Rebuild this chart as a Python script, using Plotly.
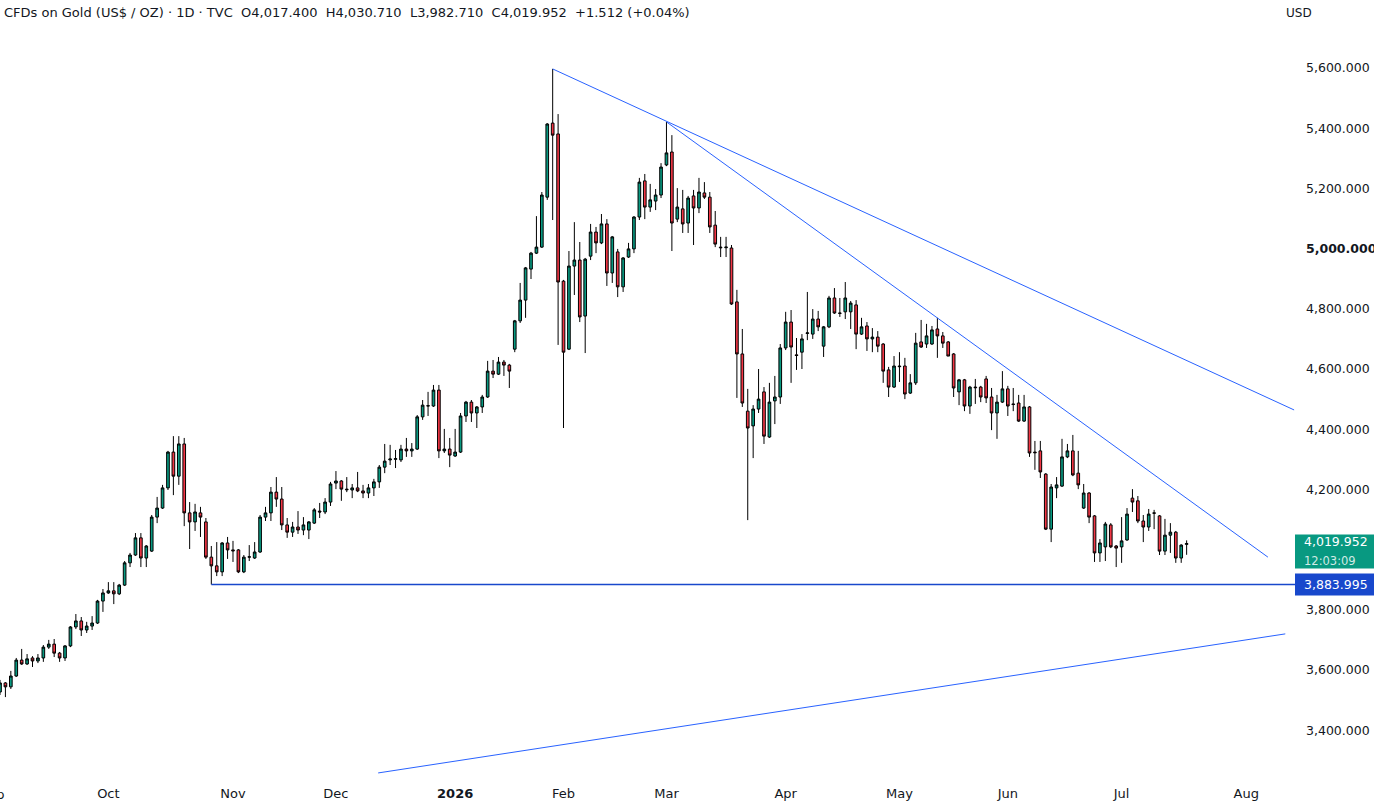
import pandas as pd
import plotly.graph_objects as go

# ---------------- data ----------------
FIRST_BAR = "2025-09-03"
HOLIDAYS = ["2025-11-27", "2025-12-25", "2026-01-01", "2026-01-19",
            "2026-02-16", "2026-04-03", "2026-05-25", "2026-06-19"]

open_prices = [
    3527, 3557, 3544, 3580, 3633, 3620, 3640, 3630, 3640, 3676,
    3686, 3656, 3640, 3680, 3743, 3763, 3733, 3746, 3756, 3829,
    3856, 3863, 3853, 3882, 3956, 3982, 4039, 3972, 3995, 4108,
    4138, 4205, 4324, 4244, 4351, 4122, 4092, 4122, 4092, 3975,
    3946, 3926, 4022, 3999, 3999, 3926, 3975, 3972, 3992, 4108,
    4122, 4191, 4168, 4082, 4058, 4075, 4065, 4065, 4088, 4128,
    4125, 4158, 4221, 4228, 4201, 4198, 4205, 4195, 4188, 4205,
    4225, 4274, 4298, 4300, 4298, 4334, 4328, 4334, 4441, 4477,
    4477, 4530, 4328, 4334, 4311, 4324, 4444, 4490, 4454, 4474,
    4507, 4593, 4583, 4623, 4613, 4666, 4760, 4829, 4932, 4985,
    5005, 5171, 5417, 5381, 4892, 4666, 4942, 4962, 4776, 4975,
    5055, 5019, 5082, 4919, 4989, 4873, 4972, 4999, 5105, 5225,
    5138, 5158, 5178, 5278, 5321, 5098, 5132, 5085, 5175, 5135,
    5185, 5171, 5078, 5005, 5003, 5002, 4823, 4650, 4460, 4411,
    4467, 4524, 4374, 4494, 4507, 4670, 4756, 4647, 4656, 4718,
    4716, 4766, 4676, 4740, 4836, 4786, 4790, 4790, 4813, 4716,
    4743, 4700, 4706, 4683, 4597, 4540, 4610, 4610, 4520, 4554,
    4690, 4683, 4683, 4733, 4710, 4690, 4650, 4524, 4564, 4477,
    4540, 4540, 4567, 4507, 4454, 4490, 4534, 4484, 4487, 4427,
    4474, 4324, 4328, 4251, 4068, 4205, 4211, 4308, 4328, 4254,
    4138, 4188, 4112, 3989, 4009, 4082, 4012, 4009, 4032, 4171,
    4162, 4095, 4075, 4122, 4112, 3995, 4048, 4058, 3972, 4017.400,
]
high_prices = [
    3567, 3560, 3597, 3640, 3670, 3653, 3646, 3653, 3683, 3700,
    3703, 3660, 3683, 3746, 3786, 3776, 3760, 3779, 3833, 3869,
    3892, 3892, 3886, 3962, 3989, 4055, 4055, 4015, 4115, 4175,
    4215, 4328, 4377, 4377, 4371, 4158, 4152, 4142, 4105, 4012,
    4025, 4025, 4042, 4029, 4002, 3982, 4015, 4025, 4115, 4142,
    4208, 4241, 4208, 4105, 4092, 4128, 4108, 4095, 4138, 4155,
    4171, 4225, 4261, 4231, 4241, 4218, 4258, 4215, 4218, 4235,
    4281, 4351, 4348, 4331, 4348, 4371, 4354, 4447, 4497, 4524,
    4547, 4547, 4401, 4371, 4401, 4454, 4494, 4497, 4477, 4514,
    4627, 4630, 4640, 4630, 4617, 4763, 4886, 4939, 4989, 5108,
    5188, 5417, 5597, 5447, 4896, 4992, 5088, 5022, 4969, 5082,
    5072, 5115, 5098, 5042, 4999, 4972, 5019, 5108, 5235, 5248,
    5215, 5198, 5284, 5421, 5377, 5201, 5195, 5175, 5195, 5235,
    5221, 5188, 5125, 5039, 5039, 5012, 4863, 4733, 4534, 4480,
    4600, 4540, 4554, 4577, 4683, 4790, 4796, 4703, 4716, 4856,
    4799, 4793, 4743, 4843, 4869, 4836, 4889, 4826, 4829, 4770,
    4756, 4736, 4726, 4686, 4607, 4643, 4656, 4637, 4583, 4720,
    4763, 4750, 4743, 4770, 4723, 4693, 4653, 4567, 4567, 4544,
    4567, 4544, 4577, 4537, 4514, 4593, 4544, 4537, 4514, 4514,
    4477, 4361, 4361, 4254, 4218, 4241, 4368, 4351, 4381, 4328,
    4218, 4191, 4115, 4035, 4092, 4088, 4015, 4108, 4138, 4201,
    4178, 4115, 4135, 4132, 4115, 4102, 4088, 4062, 4018, 4030.710,
]
low_prices = [
    3517, 3510, 3537, 3577, 3617, 3617, 3610, 3623, 3627, 3670,
    3643, 3627, 3630, 3676, 3736, 3713, 3723, 3733, 3753, 3793,
    3853, 3819, 3849, 3879, 3942, 3979, 3942, 3942, 3992, 4088,
    4135, 4198, 4181, 4215, 4078, 4002, 4062, 4042, 3969, 3883.995,
    3912, 3912, 3969, 3959, 3922, 3922, 3962, 3969, 3989, 4095,
    4095, 4142, 4065, 4039, 4042, 4052, 4048, 4035, 4085, 4105,
    4118, 4145, 4201, 4162, 4191, 4171, 4191, 4171, 4171, 4178,
    4205, 4254, 4281, 4271, 4291, 4308, 4308, 4331, 4431, 4444,
    4474, 4304, 4321, 4274, 4308, 4321, 4424, 4424, 4404, 4454,
    4504, 4570, 4580, 4577, 4537, 4656, 4753, 4770, 4899, 4982,
    5002, 5162, 5095, 4680, 4404, 4663, 4846, 4756, 4653, 4962,
    4985, 5015, 4876, 4886, 4839, 4856, 4969, 4985, 5095, 5098,
    5122, 5128, 5168, 5274, 4992, 5088, 5052, 5052, 5012, 5118,
    5165, 5052, 5005, 4972, 4972, 4813, 4504, 4474, 4098, 4304,
    4454, 4351, 4371, 4417, 4484, 4663, 4554, 4597, 4600, 4696,
    4700, 4726, 4640, 4736, 4783, 4773, 4766, 4733, 4666, 4713,
    4660, 4656, 4656, 4554, 4507, 4537, 4557, 4500, 4517, 4547,
    4670, 4670, 4680, 4637, 4670, 4643, 4507, 4480, 4460, 4451,
    4484, 4490, 4487, 4397, 4368, 4487, 4444, 4460, 4424, 4424,
    4308, 4265, 4238, 4065, 4025, 4171, 4208, 4304, 4244, 4201,
    4135, 4088, 3959, 3959, 3962, 4005, 3942, 3956, 4029, 4125,
    4088, 4025, 4062, 4068, 3982, 3982, 3989, 3956, 3956, 3982.710,
]
close_prices = [
    3557, 3544, 3580, 3633, 3620, 3637, 3630, 3640, 3676, 3686,
    3656, 3640, 3680, 3743, 3763, 3733, 3746, 3756, 3829, 3856,
    3863, 3853, 3882, 3956, 3982, 4039, 3972, 4012, 4108, 4138,
    4205, 4324, 4244, 4351, 4122, 4092, 4125, 4108, 3975, 3946,
    3926, 4022, 3999, 3996, 3926, 3975, 3976, 3992, 4108, 4122,
    4191, 4168, 4082, 4058, 4075, 4065, 4082, 4092, 4132, 4125,
    4158, 4218, 4228, 4201, 4199, 4205, 4195, 4188, 4205, 4225,
    4274, 4294, 4301, 4302, 4334, 4328, 4334, 4441, 4480, 4478,
    4530, 4328, 4334, 4314, 4324, 4444, 4490, 4454, 4474, 4507,
    4593, 4583, 4623, 4613, 4593, 4760, 4829, 4936, 4985, 5005,
    5178, 5414, 5377, 4889, 4656, 4942, 4962, 4773, 4965, 5055,
    5019, 5082, 4919, 5039, 4873, 4969, 4999, 5105, 5221, 5138,
    5162, 5178, 5271, 5318, 5085, 5138, 5082, 5168, 5135, 5188,
    5171, 5072, 5015, 5003, 5005, 4816, 4650, 4487, 4404, 4467,
    4500, 4377, 4490, 4507, 4670, 4756, 4673, 4645, 4700, 4720,
    4766, 4740, 4740, 4836, 4786, 4785, 4836, 4819, 4716, 4740,
    4700, 4706, 4676, 4593, 4540, 4610, 4608, 4517, 4554, 4686,
    4673, 4710, 4730, 4710, 4686, 4643, 4537, 4564, 4477, 4540,
    4538, 4507, 4504, 4454, 4490, 4534, 4477, 4482, 4427, 4474,
    4321, 4322, 4258, 4068, 4208, 4215, 4308, 4328, 4248, 4215,
    4188, 4108, 3989, 4022, 4085, 4009, 4005, 4029, 4118, 4158,
    4095, 4075, 4118, 4121, 3995, 4048, 4058, 3972, 4015, 4019.952,
]

month_tick_dates = ["2025-10-01", "2025-11-03", "2025-12-01", "2026-01-02",
                    "2026-02-02", "2026-03-02", "2026-04-01", "2026-05-01",
                    "2026-06-01", "2026-07-01", "2026-08-03"]
month_tick_labels = ["Oct", "Nov", "Dec", "<b>2026</b>", "Feb", "Mar", "Apr",
                     "May", "Jun", "Jul", "Aug"]
price_ticks = [3400, 3600, 3800, 4000, 4200, 4400, 4600, 4800, 5000, 5200, 5400, 5600]

# trend lines: (start date, start price, end date, end price)
trend_lines = [
    ("2026-01-29 12:00", 5597, "2026-08-14 08:00", 4464),
    ("2026-03-02 12:00", 5421, "2026-08-07 12:00", 3975),
    ("2025-12-11 07:00", 3258, "2026-08-12 17:00", 3720),
]
support_start = "2025-10-28 12:00"
support_level = 3883.995
countdown = "12:03:09"
header = ("CFDs on Gold (US$ / OZ) · 1D · TVC\u00a0\u00a0O4,017.400\u00a0\u00a0H4,030.710"
          "\u00a0\u00a0L3,982.710\u00a0\u00a0C4,019.952\u00a0\u00a0+1.512 (+0.04%)")

# ---------------- figure ----------------
dates = pd.bdate_range(start=FIRST_BAR, periods=len(close_prices), freq="C",
                       holidays=HOLIDAYS) + pd.Timedelta(hours=12)

UP, DOWN, TXT = "#089981", "#F23645", "#131722"
fig = go.Figure(go.Candlestick(
    x=dates, open=open_prices, high=high_prices, low=low_prices, close=close_prices,
    increasing=dict(fillcolor=UP, line=dict(color="#000000", width=1)),
    decreasing=dict(fillcolor=DOWN, line=dict(color="#000000", width=1)),
    whiskerwidth=0, showlegend=False, hoverinfo="skip",
))

W, H = 1374, 803
ML, MR, MT, MB = 0, 79, 0, 26
plot_w = W - ML - MR
plot_h = H - MT - MB
y_top, y_bot = 5826.0, 3244.5
px_per_price = plot_h / (y_top - y_bot)

shapes = []
for x0, y0, x1, y1 in trend_lines:
    shapes.append(dict(type="line", xref="x", yref="y", x0=x0, y0=y0, x1=x1, y1=y1,
                       line=dict(color="#2962FF", width=1)))
shapes.append(dict(type="line", xref="x", yref="y", x0=support_start, x1="2026-08-14 12:00",
                   y0=support_level, y1=support_level, line=dict(color="#1848CC", width=1.3)))

last = close_prices[-1]
right_end = W / plot_w
shapes.append(dict(type="rect", xref="paper", yref="y", x0=1.0, x1=right_end,
                   y0=last - 25 / px_per_price, y1=last + 9 / px_per_price,
                   fillcolor=UP, line=dict(width=0), layer="above"))
shapes.append(dict(type="rect", xref="paper", yref="y", x0=1.0, x1=right_end,
                   y0=support_level - 11 / px_per_price, y1=support_level + 11 / px_per_price,
                   fillcolor="#1848CC", line=dict(width=0), layer="above"))

FONT = "'DejaVu Sans', sans-serif"
annotations = [
    dict(text=header, xref="paper", yref="paper", x=0, y=1, xanchor="left", yanchor="top",
         xshift=2, yshift=-3, showarrow=False, font=dict(family=FONT, size=13, color=TXT)),
    dict(text="USD", xref="paper", yref="paper", x=1, y=1, xanchor="left", yanchor="top",
         xshift=-11, yshift=-4, showarrow=False, font=dict(family=FONT, size=12, color=TXT)),
    dict(text="Sep", xref="paper", yref="paper", x=0, y=0, xanchor="center", yanchor="top",
         xshift=-8, yshift=-8, showarrow=False, font=dict(family=FONT, size=13, color=TXT)),
    dict(text=f"{last:,.3f}", xref="paper", yref="y", x=1, y=last, xanchor="left",
         yanchor="middle", xshift=7, yshift=2, showarrow=False,
         font=dict(family=FONT, size=12.5, color="#FFFFFF")),
    dict(text=countdown, xref="paper", yref="y", x=1, y=last, xanchor="left",
         yanchor="middle", xshift=7, yshift=-17, showarrow=False,
         font=dict(family=FONT, size=11.5, color="rgba(255,255,255,0.82)")),
    dict(text=f"{support_level:,.3f}", xref="paper", yref="y", x=1, y=support_level,
         xanchor="left", yanchor="middle", xshift=7, showarrow=False,
         font=dict(family=FONT, size=12.5, color="#FFFFFF")),
]

price_labels = [f"<b>{v:,.3f}</b>" if v == 5000 else f"{v:,.3f}" for v in price_ticks]

fig.update_layout(
    width=W, height=H, margin=dict(l=ML, r=MR, t=MT, b=MB, pad=0, autoexpand=False),
    paper_bgcolor="#FFFFFF", plot_bgcolor="#FFFFFF",
    font=dict(family=FONT, size=13, color=TXT),
    shapes=shapes, annotations=annotations, hovermode=False,
    xaxis=dict(
        type="date", range=["2025-09-03 12:00", "2026-08-14 12:00"], automargin=False,
        rangebreaks=[dict(bounds=["sat", "mon"]), dict(values=HOLIDAYS)],
        rangeslider=dict(visible=False), showgrid=False, zeroline=False, showline=False,
        tickmode="array", tickvals=[d + " 12:00" for d in month_tick_dates],
        ticktext=month_tick_labels, ticks="", ticklabelstandoff=7,
        tickfont=dict(family=FONT, size=13, color=TXT),
    ),
    yaxis=dict(
        side="right", range=[y_bot, y_top], showgrid=False, zeroline=False, showline=False,
        automargin=False,
        tickmode="array", tickvals=price_ticks, ticktext=price_labels, ticks="",
        ticklabelstandoff=10, tickfont=dict(family=FONT, size=12.5, color=TXT),
    ),
)

fig.write_html("out.html", config={"displayModeBar": False})
